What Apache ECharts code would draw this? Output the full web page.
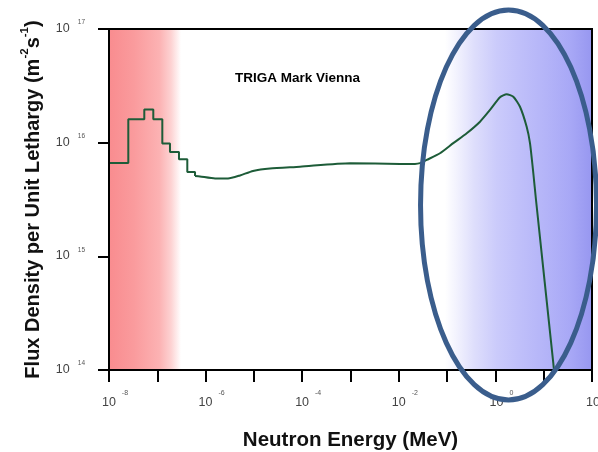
<!DOCTYPE html>
<html>
<head>
<meta charset="utf-8">
<script src="https://cdn.jsdelivr.net/npm/echarts@6/dist/echarts.min.js"></script>
<style>
  html, body { margin: 0; padding: 0; background: #ffffff; }
  #chart { width: 598px; height: 452px; }
</style>
</head>
<body>
<div id="chart"></div>
<script>
// Neutron flux spectrum, TRIGA Mark II reactor (Vienna)
// Thermal region: histogram bins (edges in MeV, flux per bin)
const stepEdges = [1e-8, 2.51e-8, 5.38e-8, 8.26e-8, 1.27e-7, 1.83e-7, 2.81e-7, 4.18e-7, 6.04e-7];
const stepFlux  = [6.62e15, 1.61e16, 1.96e16, 1.61e16, 9.85e15, 8.28e15, 7.15e15, 5.52e15];

// Epithermal and fast region: continuous curve
const curveEnergy = [6.04e-7, 7.66e-7, 1.57e-6, 2.91e-6, 5.15e-6, 9.57e-6, 2.15e-5, 9.0e-5, 9.8e-4,
  1.06e-2, 2.16e-2, 2.75e-2, 3.78e-2, 7.13e-2, 0.134, 0.255, 0.48, 0.773, 1.245, 1.71, 2.35, 3.23,
  4.44, 5.2, 6.1, 6.93, 15.8, 16.3];
const curveFlux = [5.1e15, 5.05e15, 4.84e15, 4.84e15, 5.15e15, 5.64e15, 5.93e15, 6.15e15, 6.6e15,
  6.5e15, 6.5e15, 6.6e15, 7.05e15, 8.07e15, 9.9e15, 1.21e16, 1.53e16, 1.94e16, 2.51e16, 2.67e16, 2.54e16, 2.07e16,
  1.38e16, 9.9e15, 5.38e15, 3.13e15, 1.15e14, 1.0e14];

// Shaded energy bands: thermal (red) and fast (blue)
const thermalBand = [1e-8, 3.1e-7];
const fastBand = [0.09, 100];

// Highlight ellipse around the fast-neutron peak (centre in data units, radii in px)
const highlightCentre = [1.87, 2.83e15];
const highlightRadius = [88, 195];

const FONT = 'Liberation Sans, Arial, Helvetica, sans-serif';

// Step outline from the bins, dropping onto the start of the continuous part
const stepData = [];
for (let i = 0; i < stepFlux.length; i++) {
  stepData.push([stepEdges[i], stepFlux[i]]);
  stepData.push([stepEdges[i + 1], stepFlux[i]]);
}
stepData.push([curveEnergy[0], curveFlux[0]]);
const curveData = curveEnergy.map((e, i) => [e, curveFlux[i]]);

const exponentOf = v => Math.round(Math.log10(v));

const chart = echarts.init(document.getElementById('chart'), null, { renderer: 'canvas' });

const lineColor = '#1d5c38';

chart.setOption({
  animation: false,
  backgroundColor: '#ffffff',
  title: {
    text: 'TRIGA Mark Vienna',
    left: 235,
    top: 71,
    padding: 0,
    textStyle: { fontFamily: FONT, fontSize: 13.5, fontWeight: 'bold', color: '#000' }
  },
  grid: {
    left: 109, right: 6, top: 29, bottom: 82,
    outerBoundsMode: 'none',
    containLabel: false,
    show: true, borderColor: '#000', borderWidth: 2,
    backgroundColor: 'transparent', z: 10
  },
  xAxis: {
    type: 'log', logBase: 10, min: 1e-8, max: 100, interval: 1, z: 10,
    name: 'Neutron Energy (MeV)',
    nameLocation: 'middle', nameGap: 59,
    nameTextStyle: { fontFamily: FONT, fontSize: 20.5, fontWeight: 'bold', color: '#111', lineHeight: 22 },
    axisLine: { show: true, lineStyle: { color: '#000', width: 2 } },
    axisTick: { show: true, inside: false, length: 12, lineStyle: { color: '#000', width: 2 } },
    splitLine: { show: false },
    minorTick: { show: false },
    axisLabel: {
      margin: 25,
      showMaxLabel: true,
      hideOverlap: false,
      formatter: v => {
        const e = exponentOf(v);
        if (Math.abs(e) % 2 === 1) return '';
        return '{sp| }{b|10}{s|' + e + '}';
      },
      rich: {
        sp: { width: 12, fontSize: 7, color: 'transparent', verticalAlign: 'bottom' },
        b: { fontFamily: FONT, fontSize: 12.5, lineHeight: 14, color: '#444', verticalAlign: 'bottom' },
        s: { fontFamily: FONT, fontSize: 7, lineHeight: 8, color: '#555', verticalAlign: 'bottom', padding: [0, 0, 12, 6] }
      }
    }
  },
  yAxis: {
    type: 'log', logBase: 10, min: 1e14, max: 1e17, interval: 1, z: 10,
    name: '{t|Flux Density per Unit Lethargy (m}{p|-2}{t|s}{p|-1}{t|)}',
    nameLocation: 'middle', nameGap: 66,
    nameTextStyle: {
      rich: {
        t: { fontFamily: FONT, fontSize: 20, fontWeight: 'bold', color: '#111', lineHeight: 22, verticalAlign: 'bottom' },
        p: { fontFamily: FONT, fontSize: 11.5, fontWeight: 'bold', color: '#111', lineHeight: 12, verticalAlign: 'bottom', padding: [0, 0, 12, 0] }
      }
    },
    axisLine: { show: true, lineStyle: { color: '#000', width: 2 } },
    axisTick: { show: true, inside: false, length: 11, lineStyle: { color: '#000', width: 2 } },
    splitLine: { show: false },
    minorTick: { show: false },
    axisLabel: {
      margin: 24,
      padding: [12, 0, 0, 0],
      formatter: v => '{b|10}{s|' + exponentOf(v) + '}',
      rich: {
        b: { fontFamily: FONT, fontSize: 12.5, lineHeight: 14, color: '#444', verticalAlign: 'bottom', padding: [0, 0, 7, 0] },
        s: { fontFamily: FONT, fontSize: 6.5, lineHeight: 8, color: '#555', verticalAlign: 'bottom', padding: [0, 0, 16, 8] }
      }
    }
  },
  series: [
    {
      name: 'thermal',
      type: 'line',
      data: stepData,
      symbol: 'none',
      smooth: false,
      z: 3,
      lineStyle: { color: lineColor, width: 2 },
      markArea: {
        silent: true,
        z: 1,
        data: [
          [
            {
              xAxis: thermalBand[0],
              itemStyle: {
                color: new echarts.graphic.LinearGradient(0, 0, 1, 0, [
                  { offset: 0, color: '#f98c8f' },
                  { offset: 0.35, color: '#fa9b9d' },
                  { offset: 0.7, color: '#fcb2b3' },
                  { offset: 0.86, color: '#fdd2d2' },
                  { offset: 1, color: '#ffffff' }
                ])
              }
            },
            { xAxis: thermalBand[1] }
          ],
          [
            {
              xAxis: fastBand[0],
              itemStyle: {
                color: new echarts.graphic.LinearGradient(0, 0, 1, 0, [
                  { offset: 0, color: '#ffffff' },
                  { offset: 0.07, color: '#f4f4fe' },
                  { offset: 0.2, color: '#dedefc' },
                  { offset: 0.35, color: '#cbcbfb' },
                  { offset: 0.5, color: '#c0c0fa' },
                  { offset: 0.7, color: '#b3b3f8' },
                  { offset: 0.85, color: '#a8a8f6' },
                  { offset: 1, color: '#9797f0' }
                ])
              }
            },
            { xAxis: fastBand[1] }
          ]
        ]
      }
    },
    {
      name: 'epithermal-fast',
      type: 'line',
      data: curveData,
      symbol: 'none',
      smooth: 0.2,
      z: 3,
      lineStyle: { color: lineColor, width: 2 }
    }
  ]
});

// Highlight ellipse anchored to the axes
const c = chart.convertToPixel({ gridIndex: 0 }, highlightCentre);
chart.setOption({
  graphic: [{
    type: 'ellipse',
    z: 100,
    silent: true,
    shape: { cx: c[0], cy: c[1], rx: highlightRadius[0], ry: highlightRadius[1] },
    style: { fill: 'none', stroke: '#3a5d8c', lineWidth: 5 }
  }]
});
</script>
</body>
</html>
